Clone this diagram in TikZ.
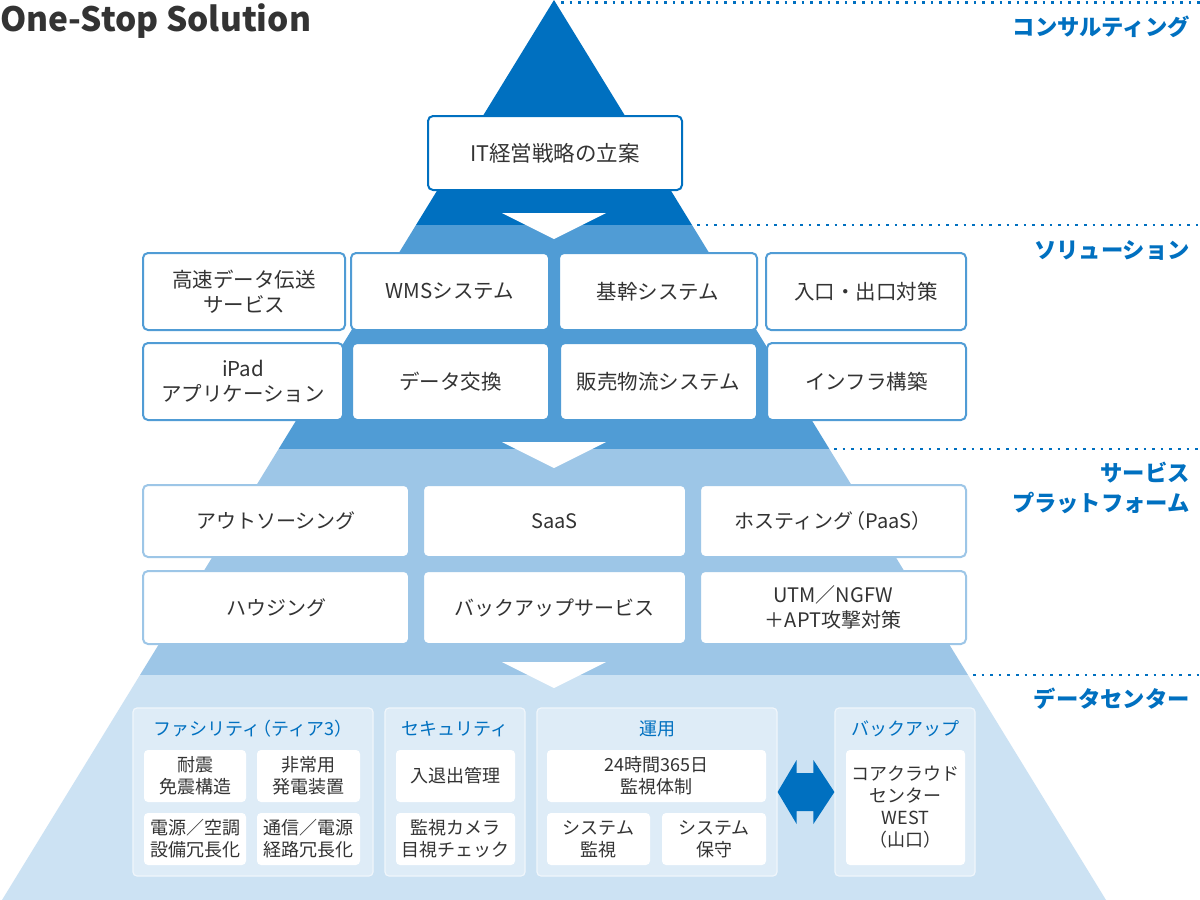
\documentclass[tikz,border=0pt]{standalone}
\usepackage{fontspec}
\setmainfont{Noto Sans CJK JP}
\usetikzlibrary{calc}
\definecolor{cDark}{RGB}{0,112,192}
\definecolor{cMed}{RGB}{80,156,213}
\definecolor{cLight}{RGB}{157,198,231}
\definecolor{cPale}{RGB}{204,226,243}
\definecolor{cGroup}{RGB}{222,236,247}
\definecolor{cText}{RGB}{51,51,51}
\begin{document}
\begin{tikzpicture}[x=1pt,y=-1pt,
  tx/.style={text=cText, align=center, inner sep=0pt},
  boxbase/.style={fill=white, line width=2pt, rounded corners=5pt, tx, font=\fontsize{20}{25}\selectfont},
  boxA/.style={boxbase, draw=cDark, font=\fontsize{21.5}{26}\selectfont},
  boxB/.style={boxbase, draw=cMed, font=\fontsize{20.5}{25}\selectfont},
  boxC/.style={boxbase, draw=cLight},
  grp/.style={fill=cGroup, draw=white!55!cGroup, line width=1.2pt, rounded corners=4pt, inner sep=0pt},
  subbox/.style={fill=white, rounded corners=4pt, tx, font=\fontsize{18}{22}\selectfont},
  gtitle/.style={text=cDark, inner sep=0pt, font=\fontsize{18}{20}\selectfont},
  side/.style={text=cDark, inner sep=0pt, anchor=east, align=right, font=\bfseries\fontsize{22.3}{30}\selectfont},
  dots/.style={draw=cDark, line width=2.6pt, dash pattern=on 2.6pt off 6pt},
  notch/.style={fill=white}
]
\useasboundingbox (0,0) rectangle (1200,900);
\fill[white] (0,0) rectangle (1200,900);

% pyramid bands
\begin{scope}
  \clip (554,0) -- (1106,900) -- (2,900) -- cycle;
  \fill[cDark] (0,0) rectangle (1200,225);
  \fill[cMed] (0,225) rectangle (1200,449);
  \fill[cLight] (0,449) rectangle (1200,675);
  \fill[cPale] (0,675) rectangle (1200,900);
\end{scope}

% white down triangles
\fill[notch] (502,213) -- (606,213) -- (554,239) -- cycle;
\fill[notch] (502,442) -- (606,442) -- (554,468) -- cycle;
\fill[notch] (502,662) -- (606,662) -- (554,688) -- cycle;

% dotted guide lines
\coordinate (d0) at (561,2.5);
\coordinate (d1) at (697,225);
\coordinate (d2) at (834,449);
\coordinate (d3) at (973,675);
\coordinate (e0) at (1200,2.5);
\coordinate (e1) at (1200,225);
\coordinate (e2) at (1200,449);
\coordinate (e3) at (1200,675);
\draw[dots] (d0) -- (e0);
\draw[dots] (d1) -- (e1);
\draw[dots] (d2) -- (e2);
\draw[dots] (d3) -- (e3);

% title
\node[anchor=base west, inner sep=0pt, text=cText, font=\bfseries\fontsize{33.5}{36}\selectfont] (title) at (0,31) {One-Stop Solution};

% side labels
\node[side] (l1) at (1190,27) {コンサルティング};
\node[side] (l2) at (1190,250) {ソリューション};
\node[side] (l3) at (1190,488) {サービス\\プラットフォーム};
\node[side] (l4) at (1190,699) {データセンター};

% band 1
\node[boxA, minimum width=254pt, minimum height=74pt] (it) at (555,153) {IT経営戦略の立案};

% band 2
\node[boxB, minimum width=202pt, minimum height=77pt] (s11) at (244,291.5) {高速データ伝送\\サービス};
\node[boxB, minimum width=198pt, minimum height=77pt] (s12) at (450,291.5) {WMSシステム};
\node[boxB, minimum width=198pt, minimum height=77pt] (s13) at (658,291.5) {基幹システム};
\node[boxB, minimum width=200pt, minimum height=77pt] (s14) at (866,291.5) {入口・出口対策};
\node[boxB, minimum width=200pt, minimum height=77pt] (s21) at (243,381.5) {iPad\\アプリケーション};
\node[boxB, minimum width=197pt, minimum height=77pt] (s22) at (450.5,381.5) {データ交換};
\node[boxB, minimum width=197pt, minimum height=77pt] (s23) at (658.5,381.5) {販売物流システム};
\node[boxB, minimum width=199pt, minimum height=77pt] (s24) at (866.5,381.5) {インフラ構築};

% band 3
\node[boxC, minimum width=266pt, minimum height=72pt] (p11) at (276,521) {アウトソーシング};
\node[boxC, minimum width=263pt, minimum height=72pt] (p12) at (554.5,521) {SaaS};
\node[boxC, minimum width=266pt, minimum height=72pt] (p13) at (833,521) {ホスティング\kern-0.4em（PaaS）};
\node[boxC, minimum width=266pt, minimum height=73pt] (p21) at (276,607.5) {ハウジング};
\node[boxC, minimum width=263pt, minimum height=73pt] (p22) at (554.5,607.5) {バックアップサービス};
\node[boxC, minimum width=266pt, minimum height=73pt] (p23) at (833,607.5) {UTM／NGFW\\＋APT攻撃対策};

% band 4 groups
\node[grp, minimum width=240pt, minimum height=168pt] (g1) at (253,792) {};
\node[grp, minimum width=140pt, minimum height=168pt] (g2) at (455,792) {};
\node[grp, minimum width=240pt, minimum height=168pt] (g3) at (657,792) {};
\node[grp, minimum width=140pt, minimum height=168pt] (g4) at (905,792) {};

\node[gtitle] (t1) at (253,729) {ファシリティ\kern-0.4em（ティア3）};
\node[gtitle] (t2) at (455,729) {セキュリティ};
\node[gtitle] (t3) at (657,729) {運用};
\node[gtitle] (t4) at (905,729) {バックアップ};

\node[subbox, minimum width=102pt, minimum height=52pt] (f1) at (195,776) {耐震\\免震構造};
\node[subbox, minimum width=103pt, minimum height=52pt] (f2) at (308.5,776) {非常用\\発電装置};
\node[subbox, minimum width=102pt, minimum height=52pt] (f3) at (195,839) {電源／空調\\設備冗長化};
\node[subbox, minimum width=103pt, minimum height=52pt] (f4) at (308.5,839) {通信／電源\\経路冗長化};

\node[subbox, minimum width=119pt, minimum height=52pt] (k1) at (455.5,776) {入退出管理};
\node[subbox, minimum width=119pt, minimum height=52pt] (k2) at (455.5,839) {監視カメラ\\目視チェック};

\node[subbox, minimum width=219pt, minimum height=52pt] (o1) at (656.5,776) {24時間365日\\監視体制};
\node[subbox, minimum width=103pt, minimum height=52pt] (o2) at (598.5,839) {システム\\監視};
\node[subbox, minimum width=104pt, minimum height=52pt] (o3) at (714,839) {システム\\保守};

\node[subbox, minimum width=119pt, minimum height=115pt] (b1) at (905.5,807.5) {コアクラウド\\センター\\WEST\\（山口）};

% double arrow between 運用 and バックアップ
\coordinate (aL) at (g3.east);
\coordinate (aR) at (g4.west);
\fill[cDark] (aL) -- ($(aL)+(19,-32)$) -- ($(aL)+(19,-19)$) -- ($(aR)+(-21,-19)$) -- ($(aR)+(-21,-32)$)
  -- (aR) -- ($(aR)+(-21,32)$) -- ($(aR)+(-21,19)$) -- ($(aL)+(19,19)$) -- ($(aL)+(19,32)$) -- cycle;
\end{tikzpicture}
\end{document}
